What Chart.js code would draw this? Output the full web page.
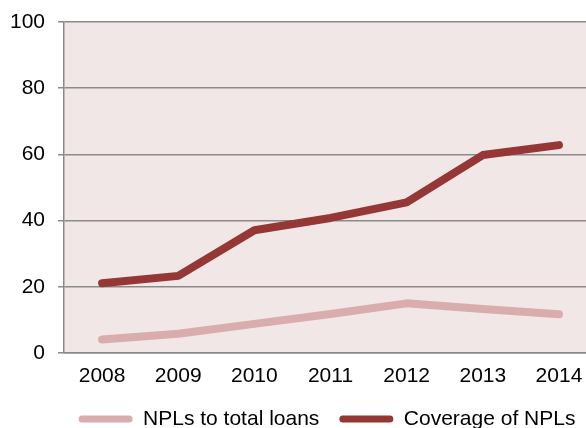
<!DOCTYPE html>
<html>
<head>
<meta charset="utf-8">
<script src="https://cdn.jsdelivr.net/npm/chart.js@4"></script>
<style>
  html, body { margin: 0; padding: 0; background: #ffffff; }
  #wrap { width: 586px; height: 428px; }
</style>
</head>
<body>
<div id="wrap"><canvas id="nplChart" width="586" height="428"></canvas></div>
<script>
const categories = ['2008', '2009', '2010', '2011', '2012', '2013', '2014'];
const nplRatio = [4.1, 5.8, 8.8, 11.8, 15.0, 13.3, 11.7];
const nplCoverage = [21.1, 23.3, 37.1, 40.8, 45.5, 59.8, 62.8];
const yTicks = [0, 20, 40, 60, 80, 100];

const gridGray = '#8a8a8a';

// pink plot area behind the lines
const plotBackground = {
  id: 'plotBackground',
  beforeDraw(chart) {
    const { ctx, chartArea: a } = chart;
    ctx.save();
    ctx.fillStyle = '#f2e7e7';
    ctx.fillRect(a.left, a.top, a.right - a.left, a.bottom - a.top);
    ctx.restore();
  }
};

// legend row is centred a bit right of the canvas middle
const legendShift = {
  id: 'legendShift',
  afterLayout(chart) {
    const lg = chart.legend;
    if (lg) { lg.left += 34; lg.right += 34; }
  }
};

const ctx = document.getElementById('nplChart').getContext('2d');

const chart = new Chart(ctx, {
  type: 'line',
  data: {
    labels: categories,
    datasets: [
      {
        label: 'NPLs to total loans',
        data: nplRatio,
        borderColor: '#d9adad',
        backgroundColor: '#d9adad',
        borderWidth: 8,
        borderCapStyle: 'round',
        borderJoinStyle: 'round',
        tension: 0,
        pointRadius: 0,
        fill: false
      },
      {
        label: 'Coverage of NPLs',
        data: nplCoverage,
        borderColor: '#953735',
        backgroundColor: '#953735',
        borderWidth: 8,
        borderCapStyle: 'round',
        borderJoinStyle: 'round',
        tension: 0,
        pointRadius: 0,
        fill: false
      }
    ]
  },
  options: {
    responsive: false,
    animation: false,
    layout: {
      padding: { top: 22, right: 0, left: 0, bottom: -11.5 }
    },
    font: { family: '"Liberation Sans", Arial, sans-serif', size: 21 },
    scales: {
      x: {
        type: 'linear',
        // years sit in the middle of each category band; the last band runs off the right edge
        min: 2007.5,
        max: 2014.355,
        afterBuildTicks: (axis) => {
          axis.ticks = categories.map(c => ({ value: Number(c) }));
        },
        afterFit: (scale) => { scale.height = 35.5; },
        // invisible tick marks only push the year labels down
        grid: {
          display: true,
          drawOnChartArea: false,
          color: 'rgba(0,0,0,0)',
          tickLength: 11
        },
        border: { display: true, color: gridGray, width: 1.5 },
        ticks: {
          color: '#000000',
          padding: 0,
          maxRotation: 0,
          font: { size: 21 },
          callback: (v) => String(v)
        }
      },
      y: {
        min: 0,
        max: 100,
        afterBuildTicks: (axis) => {
          axis.ticks = yTicks.map(v => ({ value: v }));
        },
        afterFit: (scale) => { scale.width = 64; },
        grid: {
          color: gridGray,
          lineWidth: 1.5,
          drawTicks: true,
          tickLength: 6
        },
        border: { display: true, color: gridGray, width: 1.5 },
        ticks: {
          color: '#000000',
          padding: 13,
          // short line height keeps the "100" label from pushing the plot down
          font: { size: 21, lineHeight: 0.6 }
        }
      }
    },
    plugins: {
      legend: {
        position: 'bottom',
        labels: {
          color: '#000000',
          boxWidth: 54,
          boxHeight: 7,
          padding: 20,
          useBorderRadius: true,
          borderRadius: 3.5,
          font: { size: 21 },
          generateLabels: (chart) => {
            const items = Chart.defaults.plugins.legend.labels.generateLabels(chart);
            items.forEach(item => { item.lineWidth = 0; });
            return items;
          }
        }
      },
      tooltip: { enabled: false }
    }
  },
  plugins: [plotBackground, legendShift]
});
</script>
</body>
</html>
